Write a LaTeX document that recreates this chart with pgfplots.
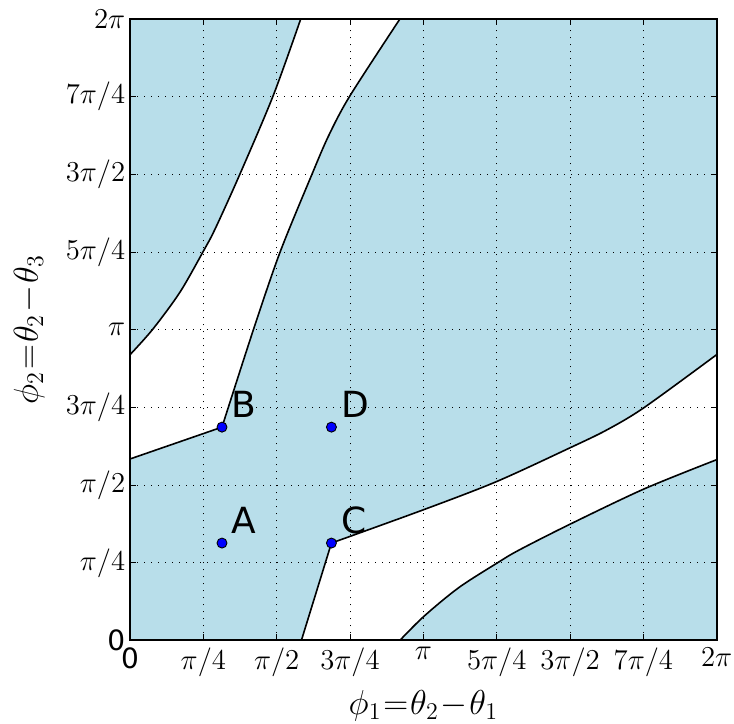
\documentclass[border=0pt]{standalone}
\usepackage{fontspec}
\usepackage{pgfplots}
\usepackage{pgfplotstable}
\pgfplotsset{compat=1.18}
\newfontfamily\dejavu{DejaVu Sans}
\definecolor{lb}{RGB}{184,222,234}

% boundary curves of the upper-left white band (radians)
\pgfplotstableread{
x y
0 1.835
0.985 2.157
}\LzeroT
\pgfplotstableread{
x y
0.985 2.157
1.320 3.138
1.606 3.924
1.948 4.712
2.128 5.105
2.355 5.506
2.890 6.283
}\RoneT
\pgfplotstableread{
x y
0 2.889
0.243 3.146
0.534 3.520
0.785 3.935
0.911 4.160
1.170 4.700
1.532 5.505
1.828 6.283
}\LoneT
\pgfplotstableread{
x y
0 1.835
0.985 2.157
1.320 3.138
1.606 3.924
1.948 4.712
2.128 5.105
2.355 5.506
2.890 6.283
1.828 6.283
1.532 5.505
1.170 4.700
0.911 4.160
0.785 3.935
0.534 3.520
0.243 3.146
0 2.889
}\RegionT

\begin{document}
\begin{tikzpicture}
\begin{axis}[
  at={(0,0)}, anchor=south west,
  scale only axis, width=293.3pt, height=310.7pt,
  xmin=0, xmax=6.283185, ymin=0, ymax=6.283185,
  axis background/.style={fill=lb},
  axis on top,
  axis line style={line width=1pt},
  xtick={0,0.785398,1.570796,2.356194,3.141593,3.926991,4.712389,5.497787,6.283185},
  ytick={0,0.785398,1.570796,2.356194,3.141593,3.926991,4.712389,5.497787,6.283185},
  xticklabels={{\dejavu 0},$\pi/4$,$\pi/2$,$3\pi/4$,$\pi$,$5\pi/4$,$3\pi/2$,$7\pi/4$,$2\pi$},
  yticklabels={{\dejavu 0},$\pi/4$,$\pi/2$,$3\pi/4$,$\pi$,$5\pi/4$,$3\pi/2$,$7\pi/4$,$2\pi$},
  tick label style={font=\fontsize{14}{17}\selectfont},
  yticklabel style={xshift=1.1pt},
  major tick length=3pt,
  tick style={black, line width=0.5pt},
  grid=major,
  major grid style={black, line width=0.5pt, dash pattern=on 0.6pt off 2.9pt},
  xlabel={$\thickmuskip=1mu\medmuskip=1mu\phi_1=\theta_2-\theta_1$},
  ylabel={$\thickmuskip=1mu\medmuskip=1mu\phi_2=\theta_2-\theta_3$},
  label style={font=\fontsize{17}{20}\selectfont},
  xlabel style={at={(axis description cs:0.5,-0.0795)}, anchor=north, inner sep=0pt},
  ylabel style={at={(axis description cs:-0.1449,0.5)}, anchor=south, inner sep=0pt},
]
% white bands (band 2 is band 1 with the coordinates swapped)
\addplot[draw=none, fill=white] table[x=x, y=y] {\RegionT};
\addplot[draw=none, fill=white] table[x=y, y=x] {\RegionT};
% boundary lines
\addplot[black, line width=0.8pt, smooth] table[x=x, y=y] {\LzeroT};
\addplot[black, line width=0.8pt, smooth] table[x=x, y=y] {\RoneT};
\addplot[black, line width=0.8pt, smooth] table[x=x, y=y] {\LoneT};
\addplot[black, line width=0.8pt, smooth] table[x=y, y=x] {\LzeroT};
\addplot[black, line width=0.8pt, smooth] table[x=y, y=x] {\RoneT};
\addplot[black, line width=0.8pt, smooth] table[x=y, y=x] {\LoneT};
% equilibrium points
\addplot[only marks, mark=*, mark size=2.5pt, mark options={fill=blue, draw=black, line width=0.45pt}]
  coordinates {(0.985,0.985) (0.985,2.157) (2.157,0.985) (2.157,2.157)};
\node[anchor=base west, inner sep=0pt, font=\dejavu\fontsize{18}{21}\selectfont] at (axis cs:1.085,1.085) {A};
\node[anchor=base west, inner sep=0pt, font=\dejavu\fontsize{18}{21}\selectfont] at (axis cs:1.085,2.257) {B};
\node[anchor=base west, inner sep=0pt, font=\dejavu\fontsize{18}{21}\selectfont] at (axis cs:2.257,1.085) {C};
\node[anchor=base west, inner sep=0pt, font=\dejavu\fontsize{18}{21}\selectfont] at (axis cs:2.257,2.257) {D};
\end{axis}
\pgfresetboundingbox
\useasboundingbox (-65pt,-41.3pt) rectangle (301.95pt,320.2pt);
\end{tikzpicture}
\end{document}
